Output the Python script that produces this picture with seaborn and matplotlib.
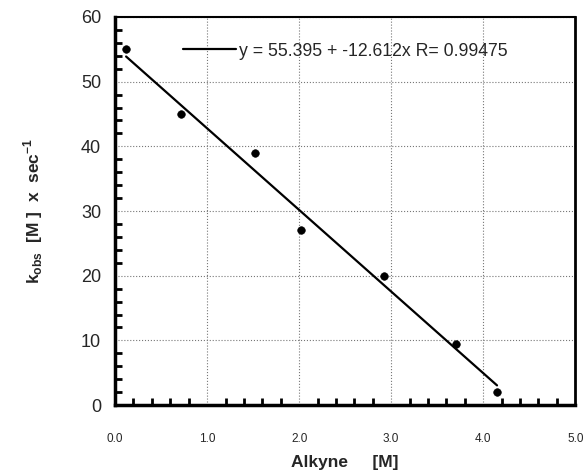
"""kobs vs alkyne concentration with linear fit."""
import matplotlib
matplotlib.use("Agg")
import matplotlib.pyplot as plt
import numpy as np
import pandas as pd
import seaborn as sns
from matplotlib.ticker import MultipleLocator, FormatStrFormatter

alkyne = [0.12, 0.72, 1.52, 2.02, 2.92, 3.70, 4.15]
kobs = [55.0, 45.0, 39.0, 27.0, 20.0, 9.5, 2.0]
fit_intercept = 55.395
fit_slope = -12.612
fit_r = 0.99475

df = pd.DataFrame({"x": alkyne, "y": kobs})
x_fit = np.array([min(alkyne), max(alkyne)])
fit_df = pd.DataFrame({"x": x_fit, "y": fit_intercept + fit_slope * x_fit})

sns.set_style("white")
plt.rcParams["font.family"] = ["Liberation Sans", "DejaVu Sans"]

fig = plt.figure(figsize=(5.87, 4.70), dpi=100)
ax = fig.add_axes([0.196, 0.138, 0.784, 0.826])

label = f"y = {fit_intercept} + {fit_slope}x R= {fit_r}"
sns.lineplot(data=fit_df, x="x", y="y", ax=ax, color="black", lw=1.6, label=label)
sns.scatterplot(data=df, x="x", y="y", ax=ax, color="black", s=30, edgecolor="black", zorder=3)

ax.set_xlim(0, 5)
ax.set_ylim(0, 60)
ax.xaxis.set_major_locator(MultipleLocator(1))
ax.xaxis.set_minor_locator(MultipleLocator(0.2))
ax.yaxis.set_major_locator(MultipleLocator(10))
ax.yaxis.set_minor_locator(MultipleLocator(2))
ax.xaxis.set_major_formatter(FormatStrFormatter("%.1f"))

ax.grid(True, which="major", linestyle=":", color="#777777", lw=0.8)
ax.tick_params(axis="both", which="major", direction="out", length=6, width=2.5, color="black")
ax.tick_params(axis="both", which="minor", direction="in", length=5, width=2, color="black",
               bottom=True, left=True)
ax.tick_params(axis="y", which="major", labelsize=13, pad=4)
ax.tick_params(axis="x", which="major", labelsize=8.5, pad=14)

for side, w in [("left", 2.5), ("bottom", 2.5), ("right", 2.0), ("top", 1.5)]:
    ax.spines[side].set_visible(True)
    ax.spines[side].set_linewidth(w)
    ax.spines[side].set_color("black")

ax.set_xlabel("Alkyne     [M]", fontsize=12.5, fontweight="bold", labelpad=7)
ax.set_ylabel(r"k$_{\mathregular{obs}}$  [M ]  x  sec$^{\mathregular{-1}}$",
              fontsize=12.5, fontweight="bold", labelpad=26)

ax.legend(loc="upper left", bbox_to_anchor=(0.113, 0.975), frameon=False,
          fontsize=12.7, handlelength=3.0, handletextpad=0.2)

fig.savefig("out.png", dpi=100)
plt.close(fig)
